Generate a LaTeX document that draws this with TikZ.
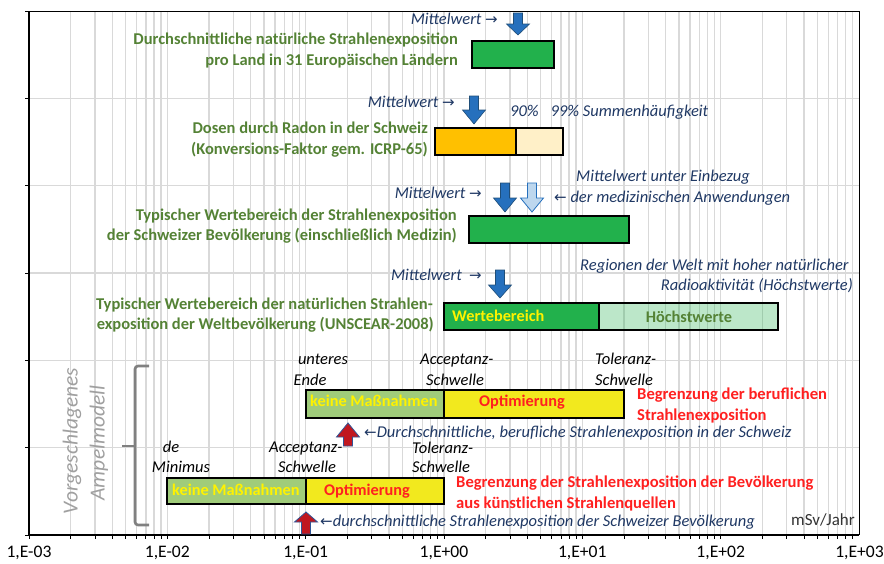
\documentclass[tikz,border=0pt]{standalone}
\usepackage{fontspec}
\setmainfont{Carlito}
\newfontfamily\arrfont{DejaVu Sans}
\definecolor{lblgreen}{HTML}{548235}
\definecolor{navy}{HTML}{1F3864}
\definecolor{barGreen}{HTML}{22B14C}
\definecolor{barOrange}{HTML}{FFC000}
\definecolor{barLightOrange}{HTML}{FFF0C8}
\definecolor{ampGreen}{HTML}{A0CC7A}
\definecolor{ampYellow}{HTML}{F2E91E}
\definecolor{gridgray}{HTML}{D9D9D9}
\definecolor{arrBlue}{HTML}{2670BD}
\definecolor{arrBlueDark}{HTML}{1F4E79}
\definecolor{arrLight}{HTML}{BDD7EE}
\definecolor{arrRed}{HTML}{C0171F}
\definecolor{arrRedEdge}{HTML}{2F5597}
\definecolor{txtRed}{HTML}{FF2020}
\definecolor{brkGray}{HTML}{808080}
\definecolor{rotGray}{HTML}{A0A0A0}
\newcommand\rarr{{\arrfont\fontsize{15}{15}\selectfont →}}
\newcommand\larr{{\arrfont\fontsize{15}{15}\selectfont ←}}
\newcommand\dnarr[5]{\draw[#5] (#1-4.5,#2) -- (#1+4.5,#2) -- (#1+4.5,#3) -- (#1+11.5,#3) -- (#1,#4) -- (#1-11.5,#3) -- (#1-4.5,#3) -- cycle;}
\newcommand\uparr[5]{\draw[#5] (#1-4.5,#2) -- (#1+4.5,#2) -- (#1+4.5,#3) -- (#1+11.5,#3) -- (#1,#4) -- (#1-11.5,#3) -- (#1-4.5,#3) -- cycle;}
\tikzset{
  grid/.style={gridgray, line width=1.3pt},
  bar/.style={draw=black, line width=1.2pt},
  txt/.style={inner sep=0, text height=0.66em, text depth=0.16em},
  grn/.style={txt, font=\fontsize{16.5}{19}\selectfont\bfseries, text=lblgreen},
  blu/.style={txt, font=\fontsize{16.5}{19}\selectfont\itshape, text=navy},
  blk/.style={txt, font=\fontsize{16.5}{19}\selectfont\itshape, text=black},
  rd/.style={txt, font=\fontsize{16.6}{19}\selectfont\bfseries, text=txtRed},
  inbar/.style={txt, font=\fontsize{16.3}{19}\selectfont\bfseries},
  ticklbl/.style={txt, font=\fontsize{17.6}{20}\selectfont, text=black},
  blueArrow/.style={fill=arrBlue, draw=arrBlueDark, line width=0.6pt},
  lightArrow/.style={fill=arrLight, draw=arrBlue, line width=0.8pt},
  redArrow/.style={fill=arrRed, draw=arrRedEdge, line width=0.8pt},
  brk/.style={brkGray, line width=2.6pt, rounded corners=3pt},
  rot/.style={txt, rotate=90, font=\fontsize{21.5}{24}\selectfont\itshape, text=rotGray}
}
\begin{document}
\begin{tikzpicture}[x=1pt,y=-1pt]
\useasboundingbox (0,0) rectangle (884,563);
% grid
\foreach \d in {0,...,5}{\foreach \k in {1,...,9}{
  \pgfmathsetmacro\xx{29+138.333*(\d+log10(\k))}
  \draw[grid] (\xx,11) -- (\xx,535);
  \draw[black, line width=0.8pt] (\xx,535) -- (\xx,539);
}}
\foreach \yy in {98.3,185.7,273,360.3,447.7}{\draw[grid] (29,\yy) -- (859,\yy);}
\foreach \yy in {11,98.3,185.7,273,360.3,447.7,535}{\draw[black, line width=0.8pt] (25,\yy) -- (29,\yy);}
\draw[black, line width=0.8pt] (29,11) -- (859,11) -- (859,535);
\draw[black, line width=1.5pt] (29,11) -- (29,535) -- (859,535);
% tick labels
\node[ticklbl] (t0) at (29,555) {1,E-03};
\node[ticklbl] (t1) at (167.3,555) {1,E-02};
\node[ticklbl] (t2) at (305.7,555) {1,E-01};
\node[ticklbl] (t3) at (444,555) {1,E+00};
\node[ticklbl] (t4) at (582.3,555) {1,E+01};
\node[ticklbl] (t5) at (720.7,555) {1,E+02};
\node[ticklbl, anchor=east] (t6) at (884,555) {1,E+03};
\node[txt, font=\fontsize{17}{19}\selectfont, text=black!80, anchor=east] (unit) at (855,523) {mSv/Jahr};
% row 1
\draw[bar, fill=barGreen] (472,41) rectangle (554,68);
\dnarr{518}{13}{24}{35}{blueArrow}
\node[blu, anchor=east] (m1) at (498,22) {Mittelwert \rarr};
\node[grn, anchor=east] (g1a) at (458,42) {Durchschnittliche natürliche Strahlenexposition};
\node[grn, anchor=east] (g1b) at (458,63) {pro Land in 31 Europäischen Ländern};
% row 2
\draw[bar, fill=barOrange] (435,128) rectangle (516,155);
\draw[bar, fill=barLightOrange] (516,128) rectangle (563,155);
\dnarr{474}{96}{110}{124}{blueArrow}
\node[blu, anchor=east] (m2) at (455,105) {Mittelwert \rarr};
\node[blu, anchor=west] (pct) at (510,114) {90\%\hspace{12pt}99\% Summenhäufigkeit};
\node[grn, anchor=east] (g2a) at (428,131) {Dosen durch Radon in der Schweiz};
\node[grn, anchor=east] (g2b) at (428,152) {(Konversions-Faktor gem. ICRP-65)};
% row 3
\draw[bar, fill=barGreen] (469,216) rectangle (629,243);
\dnarr{505}{183}{198}{212}{blueArrow}
\dnarr{532}{183}{198}{212}{lightArrow}
\node[blu, anchor=east] (m3) at (482,196) {Mittelwert \rarr};
\node[blu, anchor=west] (med1) at (576,179) {Mittelwert unter Einbezug};
\node[blu, anchor=west] (med2) at (554,200) {\larr\ der medizinischen Anwendungen};
\node[grn, anchor=east] (g3a) at (457,218) {Typischer Wertebereich der Strahlenexposition};
\node[grn, anchor=east] (g3b) at (457,238) {der Schweizer Bevölkerung (einschließlich Medizin)};
% row 4
\draw[bar, fill=barGreen] (444,303) rectangle (599,330);
\draw[bar, fill=barGreen, fill opacity=0.3] (599,303) rectangle (778,330);
\dnarr{500}{270}{285}{298}{blueArrow}
\node[blu, anchor=east] (m4) at (482,278) {Mittelwert \ \rarr};
\node[blu, anchor=west] (reg1) at (580,268) {Regionen der Welt mit hoher natürlicher};
\node[blu, anchor=east] (reg2) at (853,288) {Radioaktivität (Höchstwerte)};
\node[inbar, text=yellow, anchor=west] (wb) at (452,319) {Wertebereich};
\node[inbar, text=lblgreen] (hw) at (689,320) {Höchstwerte};
\node[grn, anchor=east] (g4a) at (433,307) {Typischer Wertebereich der natürlichen Strahlen-};
\node[grn, anchor=east] (g4b) at (434,327) {exposition der Weltbevölkerung (UNSCEAR-2008)};
% row 5
\draw[bar, fill=ampGreen] (306,390) rectangle (444,418);
\draw[bar, fill=ampYellow] (444,390) rectangle (624,418);
\node[inbar, text=yellow, anchor=west] (k1) at (310,404) {keine Maßnahmen};
\node[inbar, text=txtRed] (o1) at (522,404) {Optimierung};
\node[blk] (ue1) at (323,362) {unteres};
\node[blk] (ue2) at (310,383) {Ende};
\node[blk, anchor=west] (ac1) at (420,362) {Acceptanz-};
\node[blk, anchor=west] (ac2) at (426,383) {Schwelle};
\node[blk, anchor=west] (to1) at (595,362) {Toleranz-};
\node[blk, anchor=west] (to2) at (595,383) {Schwelle};
\node[rd, anchor=west] (r1a) at (637,397) {Begrenzung der beruflichen};
\node[rd, anchor=west] (r1b) at (637,418) {Strahlenexposition};
\uparr{348}{446}{437}{423}{redArrow}
\node[blu, anchor=west] (occ) at (364,435) {\larr Durchschnittliche, berufliche Strahlenexposition in der Schweiz};
% row 6
\draw[bar, fill=ampGreen] (167,478) rectangle (306,504);
\draw[bar, fill=ampYellow] (306,478) rectangle (444,504);
\node[inbar, text=yellow, anchor=west] (k2) at (172,493) {keine Maßnahmen};
\node[inbar, text=txtRed] (o2) at (367,493) {Optimierung};
\node[blk] (dm1) at (171,450) {de};
\node[blk] (dm2) at (181,470) {Minimus};
\node[blk, anchor=west] (ac3) at (269,450) {Acceptanz-};
\node[blk, anchor=west] (ac4) at (278,470) {Schwelle};
\node[blk, anchor=west] (to3) at (412,451) {Toleranz-};
\node[blk, anchor=west] (to4) at (412,470) {Schwelle};
\node[rd, anchor=west] (r2a) at (456,485) {Begrenzung der Strahlenexposition der Bevölkerung};
\node[rd, anchor=west] (r2b) at (456,506) {aus künstlichen Strahlenquellen};
\uparr{306}{534}{522}{512}{redArrow}
\node[blu, anchor=west] (pop) at (320,524) {\larr durchschnittliche Strahlenexposition der Schweizer Bevölkerung};
% bracket and rotated label
\draw[brk] (149,366) -- (135,366) -- (135,525) -- (149,525);
\draw[brk] (135,446) -- (122,446);
\node[rot] (v1) at (75,441) {Vorgeschlagenes};
\node[rot] (v2) at (102,443) {Ampelmodell};
\end{tikzpicture}
\end{document}
